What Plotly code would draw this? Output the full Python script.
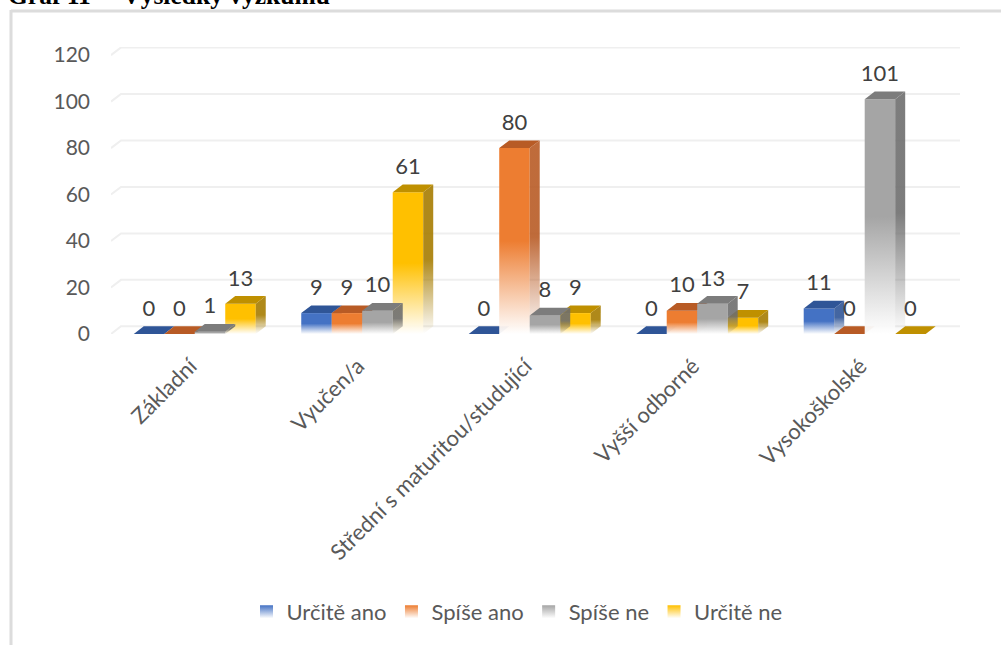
import plotly.graph_objects as go

categories = ['Základní', 'Vyučen/a', 'Střední s maturitou/studující', 'Vyšší odborné', 'Vysokoškolské']
urcite_ano = [0, 9, 0, 0, 11]
spise_ano = [0, 9, 80, 10, 0]
spise_ne = [1, 10, 8, 13, 101]
urcite_ne = [13, 61, 9, 7, 0]
y_ticks = [0, 20, 40, 60, 80, 100, 120]

# name, values, front, top, side (rgb)
series = [
    ('Určitě ano', urcite_ano, (68, 114, 196), (47, 85, 151), (47, 85, 151)),
    ('Spíše ano', spise_ano, (237, 125, 49), (184, 91, 37), (184, 91, 37)),
    ('Spíše ne', spise_ne, (165, 165, 165), (124, 124, 124), (110, 110, 110)),
    ('Určitě ne', urcite_ne, (255, 192, 0), (191, 144, 0), (166, 124, 0)),
]
# gray sits over yellow in the picture, so yellow goes first of those two
draw_order = [0, 1, 3, 2]

W, H = 1001, 645
L, R, T, B = 111, 41, 47, 311
BAR_W = 30.5 / 167.5
DX = 10 / 167.5
DY = 3.3
LABEL_GAP = 2.2
TICK_SHIFT = 0.025
X_MIN, X_MAX = -0.5, 4.569


def rgb(c, a=1):
    return f'rgba({c[0]},{c[1]},{c[2]},{a})'


def px_x(p):
    return (p - L) / (W - L - R)


def px_y(p):
    return (H - B - p) / (H - T - B)


fig = go.Figure()

# back wall gridlines with the short diagonal on the left
for t in y_ticks:
    fig.add_trace(go.Scatter(
        x=[X_MIN, X_MIN + DX, X_MAX], y=[t, t + DY, t + DY], mode='lines',
        line=dict(color='#efefef', width=2), showlegend=False, hoverinfo='skip'))

# legend entries
for name, vals, front, top, side in series:
    fig.add_trace(go.Scatter(
        x=[None], y=[None], mode='markers', name=name, legendgroup=name,
        marker=dict(symbol='square', size=13, color=rgb(front),
                    gradient=dict(type='vertical', color='#ffffff'))))

for s in draw_order:
    name, vals, front, top, side = series[s]
    for i, v in enumerate(vals):
        x0 = i + (s - 2) * BAR_W
        x1 = x0 + BAR_W
        common = dict(mode='none', fill='toself', legendgroup=name, showlegend=False, hoverinfo='skip')
        if v > 0:
            fig.add_trace(go.Scatter(
                x=[x0, x1, x1, x0, x0], y=[0, 0, v, v, 0],
                fillgradient=dict(type='vertical', start=v, stop=0, colorscale=[
                    [0, rgb(front)], [0.5, rgb(front)], [1, 'rgba(255,255,255,0.95)']]),
                **common))
            fig.add_trace(go.Scatter(
                x=[x1, x1 + DX, x1 + DX, x1, x1], y=[0, DY, v + DY, v, 0],
                fillgradient=dict(type='vertical', start=v + DY, stop=0, colorscale=[
                    [0, rgb(side, 0.9)], [0.5, rgb(side, 0.9)], [1, rgb(side, 0)]]),
                **common))
        fig.add_trace(go.Scatter(
            x=[x0, x1, x1 + DX, x0 + DX, x0], y=[v, v, v + DY, v + DY, v],
            fillcolor=rgb(top), **common))

# data labels
for s, (name, vals, front, top, side) in enumerate(series):
    fig.add_trace(go.Scatter(
        x=[i + (s - 1.5) * BAR_W for i in range(len(vals))],
        y=[v + DY + LABEL_GAP for v in vals],
        mode='text', text=[str(v) for v in vals], textposition='top center',
        textfont=dict(family='Lato', size=22, color='#404040'),
        legendgroup=name, showlegend=False, hoverinfo='skip'))

fig.update_xaxes(
    range=[X_MIN, X_MAX], tickvals=[i - TICK_SHIFT for i in range(len(categories))], ticktext=categories,
    tickangle=-45, showgrid=False, zeroline=False, showline=False, ticks='',
    ticklabelstandoff=14,
    tickfont=dict(family='Lato', size=22, color='#595959'))
fig.update_yaxes(
    range=[0, 123.5], tickvals=y_ticks, showgrid=False, zeroline=False, showline=False,
    ticks='', ticklabelstandoff=20,
    tickfont=dict(family='Lato', size=21, color='#595959'))

fig.update_layout(
    width=W, height=H, autosize=False,
    margin=dict(l=L, r=R, t=T, b=B, pad=0, autoexpand=False),
    paper_bgcolor='white', plot_bgcolor='white',
    title=dict(text='<b>Graf 11 –  Výsledky výzkumu</b>', x=8 / W, xanchor='left',
               y=1 - 4 / H, yanchor='bottom', font=dict(family='Liberation Serif', size=25.5, color='black')),
    legend=dict(orientation='h', x=px_x(517), xanchor='center', y=px_y(612), yanchor='middle',
                font=dict(family='Lato', size=22, color='#595959'), itemwidth=30),
    shapes=[
        dict(type='line', xref='paper', yref='paper', x0=px_x(11), x1=px_x(W), y0=px_y(11), y1=px_y(11),
             line=dict(color='#dcdcdc', width=3), layer='below'),
        dict(type='line', xref='paper', yref='paper', x0=px_x(11), x1=px_x(11), y0=px_y(10), y1=px_y(645),
             line=dict(color='#dcdcdc', width=3), layer='below'),
    ],
)

# page margin would push the figure 8px off
fig.write_html('out.html', config={'displayModeBar': False},
               post_script="document.body.style.margin='0';")
